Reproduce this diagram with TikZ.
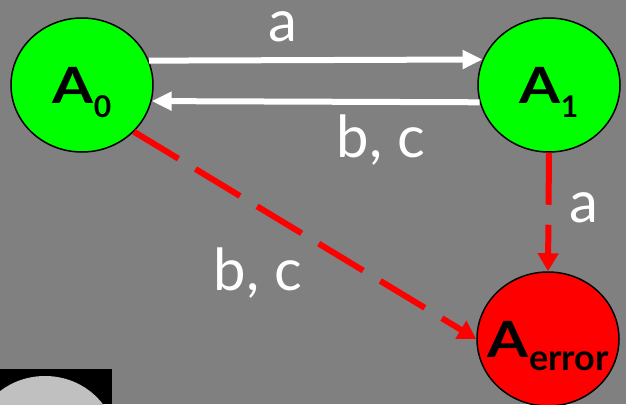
\documentclass[tikz,border=0pt]{standalone}
\usepackage{fontspec}
\setmainfont{Lato}
\usetikzlibrary{arrows.meta,shapes.geometric}
\definecolor{bggray}{HTML}{808080}
\definecolor{lightgray}{HTML}{C0C0C0}
\definecolor{stgreen}{HTML}{00FF00}
\definecolor{stred}{HTML}{FF0000}
\begin{document}
\begin{tikzpicture}[x=1pt,y=-1pt,
  state/.style={ellipse, draw=black, line width=1.5pt, minimum width=142pt, minimum height=134pt, inner sep=0pt, font=\fontsize{50}{50}\selectfont\bfseries},
  lbl/.style={text=white, anchor=base, inner sep=0pt, font=\fontsize{58}{58}\selectfont},
  whitearrow/.style={draw=white, line width=6pt, -{Triangle[length=20pt,width=18pt]}},
  redarrow/.style={draw=stred, line width=6pt, dash pattern=on 52pt off 20pt, -{Triangle[length=18pt,width=20pt]}}
]
\useasboundingbox (0,0) rectangle (626,404);
\fill[bggray] (0,0) rectangle (626,404);
\fill[black] (0,369) rectangle (112,404);
\node[ellipse, minimum width=142pt, minimum height=134pt, inner sep=0pt, fill=lightgray] (partial) at (45,443) {};

\newcommand{\bigA}{\scalebox{1.18}[1]{A}}
\newcommand{\subtxt}[3]{\smash{\raisebox{-#1pt}{\fontsize{#2}{#2}\selectfont #3}}}
\node[state, fill=stgreen] (A0) at (82,85) {\makebox[0pt]{\bigA\subtxt{14}{30}{0}}};
\node[state, fill=stgreen] (A1) at (549,85) {\makebox[0pt]{\bigA\subtxt{14}{30}{1}}};
\node[state, fill=stred] (Ae) at (548,339) {\makebox[0pt]{\bigA\hspace{1pt}\subtxt{13}{36}{error}}};

\draw[whitearrow] (A0.20.8) -- (A1.159.2);
\draw[whitearrow] (A1.194) -- (A0.-13);
\draw[redarrow] (A1.south) -- (Ae.north);
\draw[redarrow] (A0.-42) -- (Ae.west);

\node[lbl] (la) at (283,42) {a};
\node[lbl] (lbc) at (381,157) {b, c};
\node[lbl] (lra) at (584,222) {a};
\node[lbl] (llbc) at (258,290) {b, c};
\end{tikzpicture}
\end{document}
